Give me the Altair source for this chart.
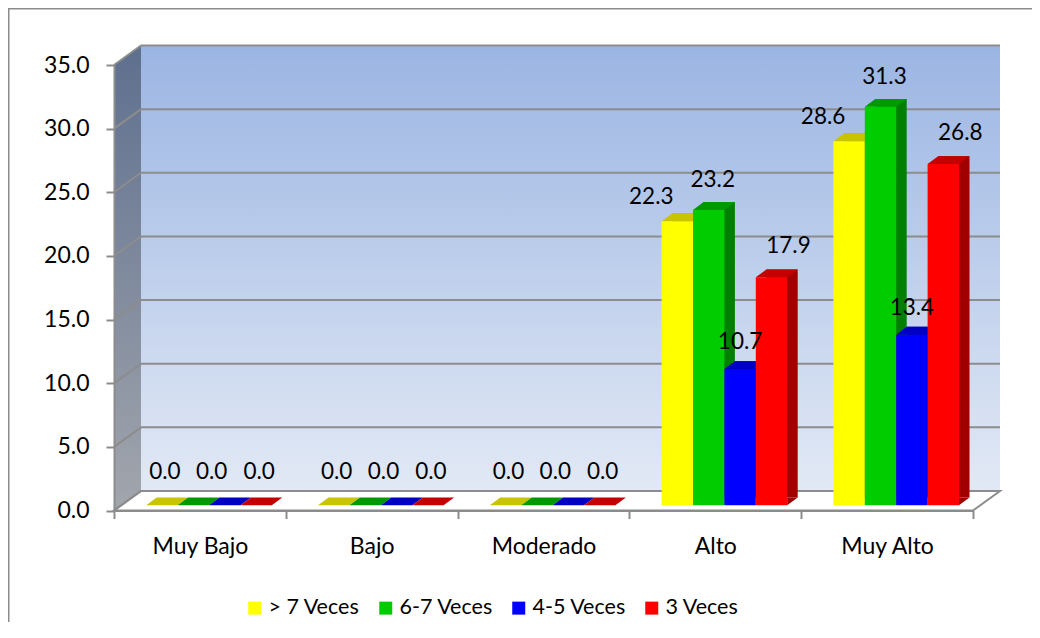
import altair as alt
import pandas as pd

# ---------------- data ----------------
CATEGORIES = ["Muy Bajo", "Bajo", "Moderado", "Alto", "Muy Alto"]
SERIES = ["> 7 Veces", "6-7 Veces", "4-5 Veces", "3 Veces"]
V_GT7 = [0.0, 0.0, 0.0, 22.3, 28.6]
V_6_7 = [0.0, 0.0, 0.0, 23.2, 31.3]
V_4_5 = [0.0, 0.0, 0.0, 10.7, 13.4]
V_3 = [0.0, 0.0, 0.0, 17.9, 26.8]
Y_TICKS = [0, 5, 10, 15, 20, 25, 30, 35]

# ---------------- styles ----------------
FRONT = ["#FFFF00", "#00CC00", "#0000FF", "#FF0000"]
TOP = ["#C8C400", "#009A00", "#0000C4", "#C40000"]
SIDE = ["#A8A400", "#008000", "#0000A0", "#A00000"]
GRID = "#8C8C8C"
FONT = "Lato"

LABEL_DX = {"> 7 Veces": -26, "6-7 Veces": 4, "4-5 Veces": 0, "3 Veces": 17}
LABEL_DY = {"> 7 Veces": -24, "6-7 Veces": -30, "4-5 Veces": -27, "3 Veces": -31}
ZERO_DX = {"> 7 Veces": 3, "4-5 Veces": -13, "3 Veces": 3}
ZERO_DY = -33

# geometry (pixels)
W, H = 859, 445.5
DX, DY = 27, 19.5          # wall depth
BDX, BDY = 10.5, 7.8       # bar depth
BX0 = 32.2                 # bar group start inside band
BW = 31.4                  # bar width
BOY = -5.3                 # bar front-face vertical shift
R_FRONT = [BX0, BX0 + 4 * BW]
R_BACK = [BX0 + BDX, BX0 + 4 * BW + BDX]

rows = []
for s_i, (s, vals) in enumerate(zip(SERIES, [V_GT7, V_6_7, V_4_5, V_3])):
    for c, v in zip(CATEGORIES, vals):
        rows.append({"category": c, "series": s, "value": v, "base": 0.0,
                     "top": TOP[s_i], "side": SIDE[s_i]})
df = pd.DataFrame(rows)
grid_df = pd.DataFrame({"value": Y_TICKS})
one0 = pd.DataFrame({"value": [0.0]})
wall_df = pd.DataFrame({"value": [35.0], "value2": [0.0]})

YS = alt.Scale(domain=[0, 35], nice=False, zero=True)
YAXIS = alt.Axis(title=None, values=Y_TICKS, format=".1f", grid=False,
                 domainColor=GRID, domainWidth=2, tickColor=GRID, tickWidth=2,
                 tickSize=8, labelFont=FONT, labelFontSize=23, labelColor="black",
                 labelPadding=17, zindex=1, labelOverlap=False)
XAXIS = alt.Axis(title=None, labelAngle=0, tickBand="extent", grid=False,
                 domainColor=GRID, domainWidth=2, tickColor=GRID, tickWidth=2,
                 tickSize=8, labelFont=FONT, labelFontSize=23, labelColor="black",
                 labelBaseline="alphabetic", labelPadding=35, zindex=1, labelLimit=0)


def Y():
    return alt.Y("value:Q", scale=YS, axis=YAXIS, title=None)


def X():
    return alt.X("category:N", sort=CATEGORIES,
                 scale=alt.Scale(type="band", domain=CATEGORIES, paddingInner=0, paddingOuter=0),
                 axis=XAXIS, title=None)


def XO(rng):
    return alt.XOffset("series:N", sort=SERIES,
                       scale=alt.Scale(type="band", domain=SERIES, range=rng,
                                       paddingInner=0, paddingOuter=0))


def grad(c0, c1):
    return alt.LinearGradient(gradient="linear",
                              stops=[alt.GradientStop(color=c0, offset=0),
                                     alt.GradientStop(color=c1, offset=1)],
                              x1=0, x2=0, y1=0, y2=1)


# ---------------- decoration ----------------
border_top = alt.Chart(one0).mark_rule(color=GRID, strokeWidth=2).encode(
    x=alt.value(-106), x2=alt.value(W + 60), y=alt.value(-56.5))
border_left = alt.Chart(one0).mark_rule(color=GRID, strokeWidth=2).encode(
    x=alt.value(-105.5), y=alt.value(-57), y2=alt.value(H + 120))

back_wall = alt.Chart(wall_df).mark_rect(
    fill=grad("#9BB5E3", "#E2E9F5"), yOffset=-DY, y2Offset=-DY).encode(
    x=alt.value(DX), x2=alt.value(W + DX), y=Y(), y2="value2:Q")

side_path = f"M0,0 L0,{-H} L{DX},{-H - DY} L{DX},{-DY} Z"
side_wall = alt.Chart(one0).mark_point(
    shape=side_path, size=4, filled=True, opacity=1, strokeWidth=0,
    fill=grad("#5E6F8E", "#A2A6AD")).encode(x=alt.value(0), y=Y())

floor_path = f"M0,0 L{W},0 L{W + DX},{-DY} L{DX},{-DY} Z"
floor = alt.Chart(one0).mark_point(
    shape=floor_path, size=4, filled=True, opacity=1, fill="white",
    stroke=GRID, strokeWidth=2).encode(x=alt.value(0), y=Y())

back_grid = alt.Chart(grid_df).mark_rule(color=GRID, strokeWidth=2, yOffset=-DY).encode(
    x=alt.value(DX), x2=alt.value(W + DX), y=Y())
side_grid = alt.Chart(grid_df).mark_rule(color=GRID, strokeWidth=2, y2Offset=-DY).encode(
    x=alt.value(0), x2=alt.value(DX), y=Y(), y2=alt.Y2("value:Q"))

# ---------------- bars ----------------
h = BW / 2
cap_path = f"M{-h},{BOY} L{h},{BOY} L{h + BDX},{BOY - BDY} L{-h + BDX},{BOY - BDY} Z"
tri_path = f"M{h},{BOY - BDY} L{h},{BOY} L{h + BDX},{BOY - BDY} Z"

base = alt.Chart(df)

back_copy = base.mark_bar(yOffset=BOY - BDY, y2Offset=BOY - BDY).encode(
    x=X(), xOffset=XO(R_BACK), y=Y(), y2=alt.Y2("base:Q"),
    fill=alt.Fill("side:N", scale=None))

bottom_tri = base.transform_filter("datum.value > 0").mark_point(
    shape=tri_path, size=4, filled=True, opacity=1, strokeWidth=0).encode(
    x=X(), xOffset=XO(R_FRONT), y=alt.Y("base:Q", scale=YS, axis=YAXIS, title=None),
    fill=alt.Fill("side:N", scale=None))

caps = base.mark_point(shape=cap_path, size=4, filled=True, opacity=1, strokeWidth=0).encode(
    x=X(), xOffset=XO(R_FRONT), y=Y(), fill=alt.Fill("top:N", scale=None))

front = base.mark_bar(yOffset=BOY, y2Offset=BOY).encode(
    x=X(), xOffset=XO(R_FRONT), y=Y(), y2=alt.Y2("base:Q"),
    color=alt.Color("series:N", sort=SERIES,
                    scale=alt.Scale(domain=SERIES, range=FRONT),
                    legend=alt.Legend(orient="none", legendX=130, legendY=532,
                                      direction="horizontal", title=None,
                                      symbolType="square", symbolSize=169,
                                      symbolStrokeWidth=0, labelFont=FONT,
                                      labelFontSize=21.5, labelColor="black",
                                      labelOffset=3, columnPadding=15, padding=0,
                                      labelLimit=0)))

labels = []
for s in SERIES:
    labels.append(
        base.transform_filter(f"datum.value > 0 && datum.series == '{s}'").mark_text(
            dx=LABEL_DX[s], dy=BOY + LABEL_DY[s], baseline="middle", align="center",
            font=FONT, fontSize=22.5, color="black").encode(
            x=X(), xOffset=XO(R_FRONT), y=Y(), text=alt.Text("value:Q", format=".1f")))
    if s in ZERO_DX:
        labels.append(
            base.transform_filter(f"datum.value == 0 && datum.series == '{s}'").mark_text(
                dx=ZERO_DX[s], dy=BOY + ZERO_DY, baseline="middle", align="center",
                font=FONT, fontSize=22.5, color="black").encode(
                x=X(), xOffset=XO(R_FRONT), y=Y(), text=alt.Text("value:Q", format=".1f")))

chart = alt.layer(
    border_top, border_left, back_wall, side_wall, floor, back_grid, side_grid,
    back_copy, bottom_tri, caps, front, *labels
).resolve_scale(xOffset="independent").properties(
    width=W, height=H,
    autosize=alt.AutoSizeParams(type="none"),
    padding={"left": 106, "top": 57, "right": 59, "bottom": 111},
).configure_view(stroke=None).configure(font=FONT)

chart.save("out.html", embed_options={"renderer": "svg", "actions": False})
